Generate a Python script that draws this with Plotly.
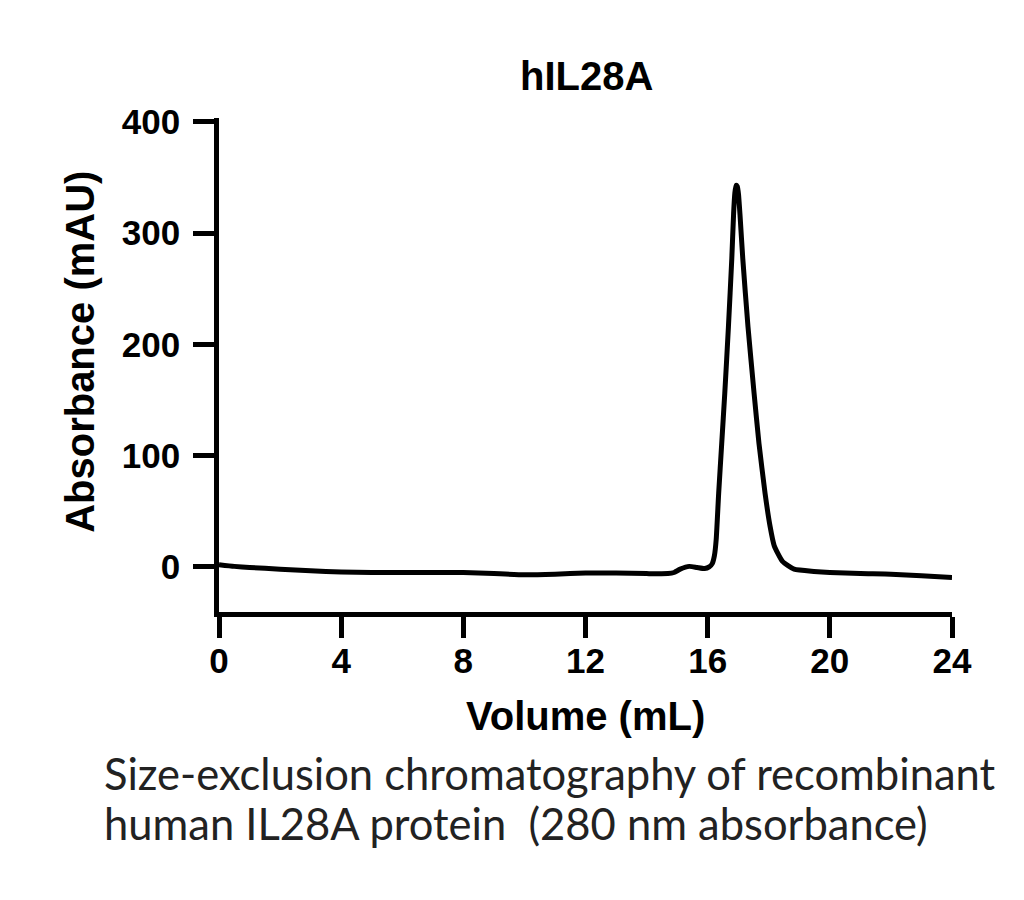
import plotly.graph_objects as go

# Data
volume_ml = [0, 0.5, 1, 2, 3, 4, 5, 6, 7, 8, 9, 10, 11, 12, 13, 14, 14.7, 14.9, 15.1, 15.4,
             15.65, 15.9, 16.05, 16.15, 16.22, 16.28, 16.36, 16.46, 16.56, 16.68, 16.79, 16.85,
             16.89, 16.93, 16.97, 17.01, 17.06, 17.15, 17.32, 17.52, 17.68, 17.88, 18.04, 18.18,
             18.45, 18.83, 19.48, 20, 21, 22, 23, 24]
absorbance_mau = [2, 0.5, -0.5, -2, -3.5, -4.5, -5, -5, -5, -5, -6, -7, -6.5, -5.5, -5.5, -6,
                  -6, -5, -2, 0.5, -0.5, -1.5, 0, 3, 10, 25, 66, 111, 156, 216, 277, 318,
                  336, 343, 342, 335, 316, 277, 216, 156, 111, 66, 37, 19,
                  5, -2, -4, -5, -6, -6.5, -8, -9.5]

x_ticks = [0, 4, 8, 12, 16, 20, 24]
y_ticks = [0, 100, 200, 300, 400]

title_text = "hIL28A"
x_title = "Volume (mL)"
y_title = "Absorbance (mAU)"
caption_lines = ["Size-exclusion chromatography of recombinant",
                 "human IL28A protein  (280 nm absorbance)"]

# Layout geometry (pixels)
W, H = 1024, 900
L, R = 219, 951.7
T, B = 118.4, 611.7


def px_to_paper(px, py):
    return (px - L) / (R - L), (B - py) / (B - T)


fig = go.Figure()
fig.add_trace(go.Scatter(
    x=volume_ml, y=absorbance_mau, mode="lines",
    line=dict(color="black", width=5, shape="spline", smoothing=0.5),
    hoverinfo="skip", showlegend=False,
))

bold = dict(family="Liberation Sans, Arial, sans-serif", color="black", weight=700)

axis_common = dict(
    showline=True, linewidth=4.5, linecolor="black",
    ticks="outside", ticklen=21, tickwidth=4.5, tickcolor="black",
    showgrid=False, zeroline=False,
    tickfont=dict(size=35, **bold),
)

fig.update_layout(
    width=W, height=H,
    margin=dict(l=L, r=W - R, t=T, b=H - B, pad=0),
    paper_bgcolor="white", plot_bgcolor="white",
    xaxis=dict(range=[0, 24], tickvals=x_ticks, ticklabelstandoff=-7, **axis_common),
    yaxis=dict(range=[-40.5, 403.5], tickvals=y_ticks, ticklabelstandoff=6, **axis_common),
    showlegend=False,
)

anns = []
tx, ty = px_to_paper(586, 76)
anns.append(dict(text=title_text, x=tx, y=ty, xref="paper", yref="paper",
                 xanchor="center", yanchor="middle", showarrow=False,
                 font=dict(size=40, **bold)))
ax_, ay_ = px_to_paper(585, 716)
anns.append(dict(text=x_title, x=ax_, y=ay_, xref="paper", yref="paper",
                 xanchor="center", yanchor="middle", showarrow=False,
                 font=dict(size=40, **bold)))
yx, yy = px_to_paper(80, 352)
anns.append(dict(text=y_title, x=yx, y=yy, xref="paper", yref="paper",
                 xanchor="center", yanchor="middle", showarrow=False, textangle=-90,
                 font=dict(size=40, **bold)))
for i, line in enumerate(caption_lines):
    cx, cy = px_to_paper(102, 772 + 50 * i)
    anns.append(dict(text=line, x=cx, y=cy, xref="paper", yref="paper",
                     xanchor="left", yanchor="middle", showarrow=False,
                     font=dict(size=43.5, family="Lato, sans-serif", color="#222222")))
fig.update_layout(annotations=anns)

fig.write_html("out.html")
